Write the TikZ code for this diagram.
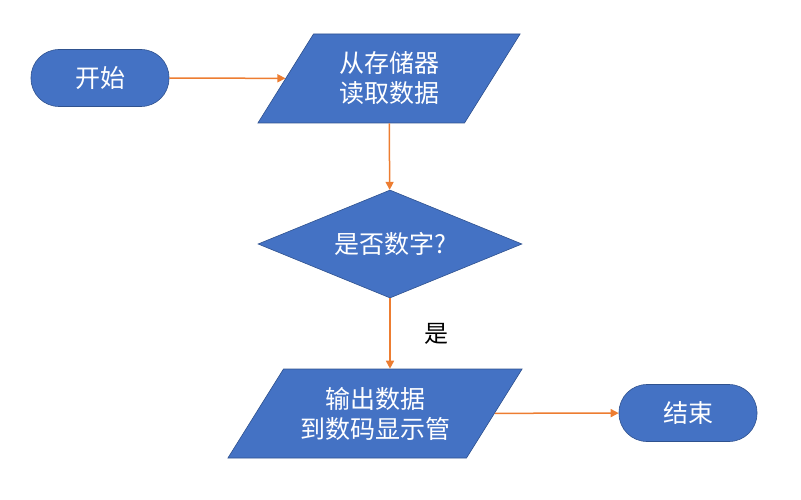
\documentclass[tikz,border=0pt]{standalone}
\usepackage{fontspec}
\setmainfont{Noto Sans CJK SC}
\usepackage{xcolor}
\usepackage{tikz}
\usetikzlibrary{shapes.geometric,arrows.meta}
\definecolor{boxblue}{HTML}{4472C4}
\definecolor{edgeblue}{HTML}{2F528F}
\definecolor{flowor}{HTML}{ED7D31}
\newcommand\iobox[2]{\parbox[c][89pt][c]{#1}{\centering #2}}

\begin{document}
\begin{tikzpicture}[x=1pt,y=-1pt,
        base/.style={fill=boxblue,draw=edgeblue,line width=0.6pt,text=white,inner sep=0pt,
            font=\fontsize{25}{30}\selectfont,align=center},
        startstop/.style={base,rectangle,rounded corners=28pt,minimum width=138pt,minimum height=57pt},
        io/.style={base,trapezium,trapezium left angle=58,trapezium right angle=122},
        decision/.style={base,diamond,shape aspect=2.44,minimum width=264pt,minimum height=108pt},
        flow/.style={draw=flowor,line width=1.5pt,-{Triangle[length=8pt,width=8pt]}}]
        \useasboundingbox (0,0) rectangle (801,500);
        % nodes
        \node[startstop] (start) at (100,78) {开始};
        \node[io] (read) at (389,78.5) {\iobox{151pt}{从存储器\\读取数据}};
        \node[decision] (check) at (390,244) {是否数字?};
        \node[io] (output) at (375,413.5) {\iobox{183pt}{输出数据\\到数码显示管}};
        \node[startstop] (stop) at (688,413) {结束};
        % flow
        \draw[flow] (start) -- (read);
        \draw[flow] (read) -- (check);
        \draw[flow] (check.south) -- (check.south |- output.north)
            node[midway,right=30pt,text=black,font=\fontsize{24}{30}\selectfont] {是};
        \draw[flow] (output) -- (stop);
    \end{tikzpicture}
\end{document}
